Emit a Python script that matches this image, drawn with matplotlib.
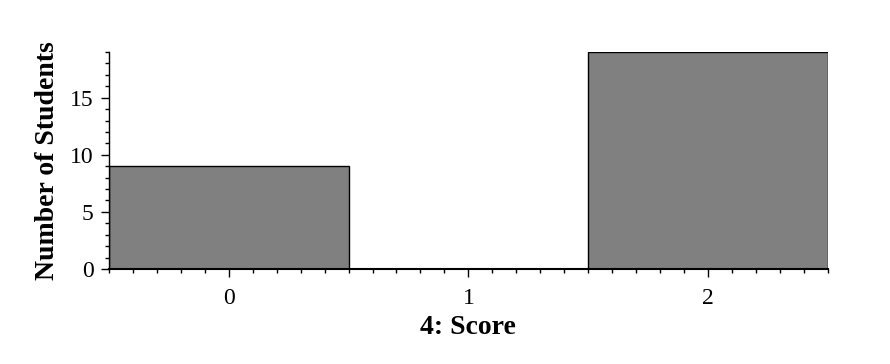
import numpy as np
import matplotlib.pyplot as plt

plt.rcParams['font.family'] = ['Liberation Serif', 'DejaVu Serif']

# histogram of scores
scores = [0, 1, 2]
counts = [9, 0, 19]
tick_labels = ['0', '1', '2']

fig = plt.figure(figsize=(8.9, 3.64), dpi=100)
ax = fig.add_axes([0.1225, 0.261, 0.8075, 0.596])

ax.bar(scores, counts, width=1.0, color='#808080', edgecolor='black', linewidth=1.0)

ax.set_xlim(-0.5, 2.5)
ax.set_ylim(0, 19)
ax.set_xticks(scores)
ax.set_xticklabels(tick_labels)
ax.set_xticks(np.arange(-0.5, 2.51, 0.1), minor=True)
ax.set_yticks([0, 5, 10, 15])
ax.set_yticks(np.arange(0, 20, 1), minor=True)

for s in ['top', 'right']:
    ax.spines[s].set_visible(False)
ax.spines['left'].set_linewidth(1.0)
ax.spines['bottom'].set_linewidth(1.5)

ax.tick_params(axis='x', which='major', length=6, width=1, labelsize=17, pad=8)
ax.tick_params(axis='y', which='major', length=6, width=1, labelsize=17, pad=5)
ax.tick_params(which='minor', length=3, width=1)

ax.set_xlabel('4: Score', fontsize=20, fontweight='bold', labelpad=4)
ax.set_ylabel('Number of Students', fontsize=20, fontweight='bold', labelpad=7)

plt.savefig('out.png', dpi=100)
